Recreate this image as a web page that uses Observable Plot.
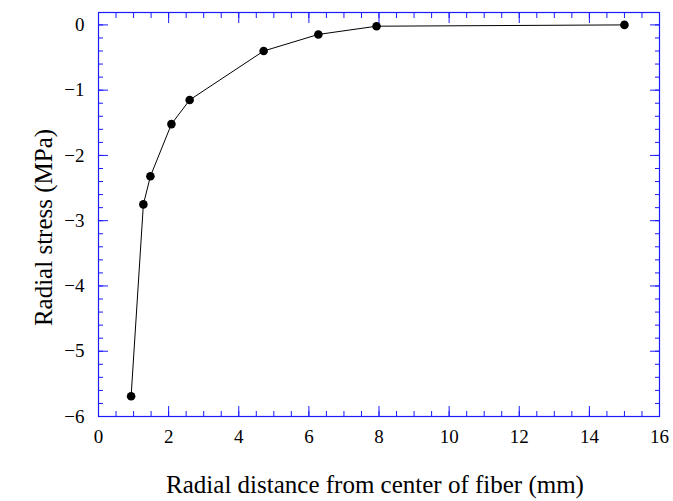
<!DOCTYPE html>
<html>
<head>
<meta charset="utf-8">
<script src="https://cdn.jsdelivr.net/npm/d3@7"></script>
<script src="https://cdn.jsdelivr.net/npm/@observablehq/plot@0.6"></script>
<style>
  html, body { margin: 0; padding: 0; background: #fff; }
  #chart svg { display: block; }
</style>
</head>
<body>
<div id="chart"></div>
<script>
// Data
const distance = [0.93, 1.28, 1.48, 2.08, 2.6, 4.71, 6.27, 7.93, 15.0];
const stress = [-5.69, -2.75, -2.32, -1.52, -1.15, -0.40, -0.146, -0.02, 0.0];

const xMajorTicks = [0, 2, 4, 6, 8, 10, 12, 14, 16];
const xMinorTicks = d3.range(0, 16.001, 0.5);
const yMajorTicks = [-6, -5, -4, -3, -2, -1, 0];
const yMinorTicks = d3.range(-6, 0.001, 0.2).map(v => Math.round(v * 10) / 10);

const xLabel = "Radial distance from center of fiber (mm)";
const yLabel = "Radial stress (MPa)";

const data = distance.map((d, i) => ({x: d, y: stress[i]}));

const blue = "#1a1aff";
const blank = () => "";
const fmt = d => (d < 0 ? "\u2212" + (-d) : String(d));
const serif = "'Liberation Serif', 'Times New Roman', serif";

const chart = Plot.plot({
  width: 673,
  height: 501,
  marginLeft: 98,
  marginRight: 14,
  marginTop: 12,
  marginBottom: 85,
  style: {fontFamily: serif, fontSize: "19px", color: "black", background: "white"},
  x: {domain: [0, 16]},
  y: {domain: [-6, 0.19]},
  marks: [
    // minor ticks, all four sides, inward
    Plot.axisX({anchor: "bottom", ticks: xMinorTicks, tickSize: -5, tickFormat: blank, stroke: blue, label: null}),
    Plot.axisX({anchor: "top", ticks: xMinorTicks, tickSize: -5, tickFormat: blank, stroke: blue, label: null}),
    Plot.axisY({anchor: "left", ticks: yMinorTicks, tickSize: -5, tickFormat: blank, stroke: blue, label: null}),
    Plot.axisY({anchor: "right", ticks: yMinorTicks, tickSize: -5, tickFormat: blank, stroke: blue, label: null}),
    // major ticks, inward
    Plot.axisX({anchor: "bottom", ticks: xMajorTicks, tickSize: -10, tickFormat: blank, stroke: blue, label: null}),
    Plot.axisX({anchor: "top", ticks: xMajorTicks, tickSize: -10, tickFormat: blank, stroke: blue, label: null}),
    Plot.axisY({anchor: "left", ticks: yMajorTicks, tickSize: -10, tickFormat: blank, stroke: blue, label: null}),
    Plot.axisY({anchor: "right", ticks: yMajorTicks, tickSize: -10, tickFormat: blank, stroke: blue, label: null}),
    // tick labels
    Plot.axisX({anchor: "bottom", ticks: xMajorTicks, tickSize: 0, tickPadding: 13, fill: "black",
      tickFormat: fmt, fontSize: 19, fontFamily: serif, label: null}),
    Plot.axisY({anchor: "left", ticks: yMajorTicks, tickSize: 0, tickPadding: 14, fill: "black",
      tickFormat: fmt, fontSize: 19, fontFamily: serif, label: null}),
    // axis titles
    Plot.text([xLabel], {frameAnchor: "bottom", text: d => d, textAnchor: "middle", lineAnchor: "bottom", dy: 76, dx: -4,
      fontSize: 25, fontFamily: serif, fill: "black"}),
    Plot.text([yLabel], {frameAnchor: "left", text: d => d, textAnchor: "middle", lineAnchor: "bottom", rotate: -90, dx: -47, dy: 13,
      fontSize: 25, fontFamily: serif, fill: "black"}),
    Plot.frame({stroke: blue, strokeWidth: 1.2}),
    Plot.line(data, {x: "x", y: "y", stroke: "black", strokeWidth: 1}),
    Plot.dot(data, {x: "x", y: "y", r: 4.3, fill: "black"})
  ]
});
document.getElementById("chart").append(chart);
</script>
</body>
</html>
